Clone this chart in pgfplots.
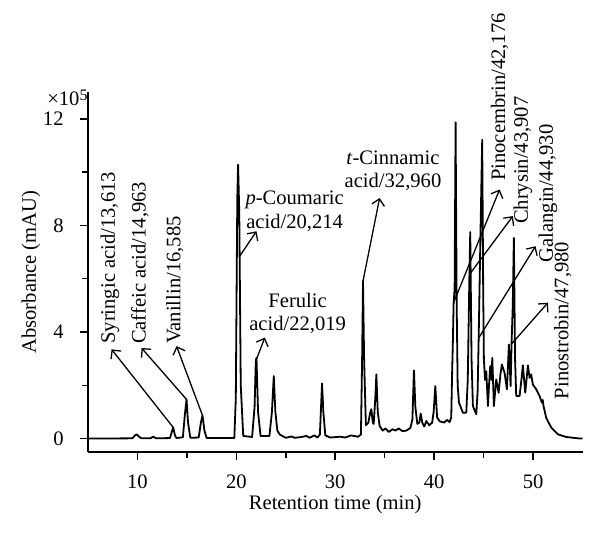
\documentclass[border=0pt]{standalone}
\usepackage{fontspec}
\setmainfont{Liberation Serif}
\usepackage{pgfplots}
\pgfplotsset{compat=1.18}
\usetikzlibrary{arrows.meta}
\begin{document}
\fontsize{10.3}{11.6}\selectfont
\begin{tikzpicture}[arr/.style={line width=0.65pt, -{Straight Barb[length=3.2pt,width=6.4pt,line width=0.65pt]}},
  rl/.style={rotate=90, anchor=west, inner sep=0pt}]
\begin{axis}[
 width=247.5pt, height=180pt, scale only axis,
 xmin=5, xmax=55, ymin=-0.5, ymax=13,
 axis lines=left, axis line style={-, line width=0.75pt},
 tick align=outside, major tick length=4pt, minor tick length=3pt,
 xtick={10,20,30,40,50}, ytick={0,4,8,12},
 minor x tick num=1, minor y tick num=1,
 tick style={line width=0.75pt, black},
 /pgf/number format/assume math mode=true,
 tick label style={font=\fontsize{10.3}{12}\selectfont},
 xticklabel style={anchor=north, inner sep=0pt, yshift=-7.5pt},
 yticklabel style={anchor=east, inner sep=0pt, xshift=-8pt},
 xlabel={Retention time (min)}, ylabel={Absorbance (mAU)},
 label style={font=\fontsize{10.3}{12}\selectfont},
 xlabel style={at={(axis description cs:0.5,-0.147)}, anchor=center},
 ylabel style={at={(axis description cs:-0.115,0.5)}, anchor=center},
 clip=false,
]
\addplot[black, line width=0.9pt, line join=round] coordinates {
(5,0) (9.5,0.01) (9.7,0.1) (9.92,0.16) (10.15,0.08) (10.4,0.01)
(11.3,0.01) (11.6,0.07) (11.9,0.01) (13.3,0.02) (13.48,0.25) (13.62,0.42)
(13.8,0.12) (13.95,0.02) (14.6,0.05) (14.8,0.9) (14.97,1.47) (15.12,0.6)
(15.35,0.03) (16.2,0.04) (16.42,0.6) (16.58,0.87) (16.78,0.3) (17.0,0.02)
(19.8,0.02) (19.95,1.5) (20.1,9.0) (20.18,10.28) (20.3,8.5) (20.45,2)
(20.7,0.1) (21.6,0.06) (21.85,1.2) (21.97,2.9) (22.04,3.03) (22.2,1.0)
(22.45,0.1) (23.35,0.1) (23.6,1.0) (23.79,2.35) (23.95,1.0) (24.15,0.3)
(24.4,0.15) (25.0,0.03) (25.6,0.08) (25.9,0.03) (26.6,0.06) (27.1,0.1)
(27.4,0.03) (27.9,0.12) (28.2,0.04) (28.45,0.15) (28.58,1.3) (28.67,2.07)
(28.8,1.0) (29.0,0.12) (29.5,0.04) (30.5,0.07) (31.0,0.04) (31.6,0.12)
(32.3,0.07) (32.6,0.15) (32.72,3.0) (32.81,5.91) (32.92,3.0) (33.1,0.5)
(33.35,0.6) (33.55,1.0) (33.65,1.1) (33.8,0.6) (33.89,0.55) (34.05,1.5)
(34.16,2.41) (34.3,1.0) (34.49,0.47) (34.8,0.3) (35.1,0.38) (35.4,0.25)
(35.8,0.35) (36.1,0.3) (36.4,0.38) (36.8,0.28) (37.2,0.3) (37.6,0.4)
(37.8,0.7) (37.96,2.56) (38.1,1.2) (38.3,0.55) (38.5,0.6) (38.64,0.94)
(38.8,0.6) (39.0,0.45) (39.21,0.66) (39.5,0.5) (39.8,0.6) (39.95,1.0)
(40.12,1.97) (40.3,0.8) (40.56,0.65) (41.0,0.6) (41.3,0.7) (41.57,0.62)
(41.73,0.8) (41.82,2.5) (41.9,3.72) (41.97,5.1) (42.07,5.6) (42.17,11.87)
(42.28,5.0) (42.38,2.0) (42.51,1.35) (42.91,0.97) (43.25,0.97) (43.4,2.2)
(43.56,6.0) (43.65,7.75) (43.78,3.0) (43.92,1.22) (44.26,0.91) (44.4,1.8)
(44.5,3.72) (44.7,8.0) (44.86,11.22) (44.96,5.5) (45.03,2.97) (45.15,2.2)
(45.27,2.53) (45.44,1.22) (45.55,2.0) (45.67,2.72) (45.77,2.2) (45.88,3.03)
(46.04,1.22) (46.28,2.22) (46.52,1.72) (46.7,2.4) (46.85,2.78) (47.12,2.47)
(47.36,1.85) (47.56,3.53) (47.73,1.97) (47.83,3.6) (47.95,5.0) (48.06,7.53)
(48.18,3.0) (48.3,1.6) (48.64,1.6) (48.85,2.3) (48.97,2.75) (49.21,1.72)
(49.48,2.75) (49.65,2.28) (49.81,2.41) (49.98,2.03) (50.32,1.85) (50.66,1.6)
(50.89,1.35) (50.98,1.45) (51.06,1.22) (51.33,0.78) (51.84,0.41) (52.51,0.16)
(53.35,0.06) (54.53,0.01) (55,0)
};
\coordinate (bl) at (rel axis cs:0,0);
\coordinate (tr) at (rel axis cs:1,1);
\node[anchor=east, inner sep=0pt, yshift=-3pt] at (rel axis cs:0,1) {×10\raisebox{0.55ex}{\fontsize{8}{8}\selectfont 5}};
% arrows
\draw[arr] (axis cs:13.62,0.42) -- (axis cs:7.39,3.35);
\draw[arr] (axis cs:14.97,1.47) -- (axis cs:10.42,3.4);
\draw[arr] (axis cs:16.58,0.87) -- (axis cs:13.96,3.47);
\draw[arr] (axis cs:20.35,6.85) -- (axis cs:22.04,7.78);
\draw[arr] (axis cs:21.97,2.91) -- (axis cs:22.88,3.79);
\draw[arr] (axis cs:32.81,5.91) -- (axis cs:34.49,9.03);
\draw[arr] (axis cs:41.97,5.1) -- (axis cs:46.62,9.35);
\draw[arr] (axis cs:43.69,6.22) -- (axis cs:47.96,8.35);
\draw[arr] (axis cs:44.53,3.79) -- (axis cs:50.25,7.22);
\draw[arr] (axis cs:47.8,3.54) -- (axis cs:51.5,5.1);
% labels
\node[rl] at (axis cs:7.22,3.55) {Syringic acid/13,613};
\node[rl] at (axis cs:10.25,3.54) {Caffeic acid/14,963};
\node[rl] at (axis cs:13.79,3.54) {Vanillin/16,585};
\node[rl] at (axis cs:46.62,9.66) {Pinocembrin/42,176};
\node[rl] at (axis cs:48.97,8.04) {Chrysin/43,907};
\node[rl] at (axis cs:51.5,6.6) {Galangin/44,930};
\node[rl] at (axis cs:53.01,1.47) {Pinostrobin/47,980};
\node[align=center, inner sep=0pt] at (axis cs:25.9,8.53) {\textit{p}-Coumaric\\acid/20,214};
\node[align=center, inner sep=0pt] at (axis cs:26.2,4.7) {Ferulic\\acid/22,019};
\node[align=center, inner sep=0pt] at (axis cs:35.84,10.06) {\textit{t}-Cinnamic\\acid/32,960};
\end{axis}
\pgfresetboundingbox
\path ([xshift=-44pt,yshift=-43.2pt]bl) rectangle ([xshift=8.75pt,yshift=46.15pt]tr);
\end{tikzpicture}
\end{document}
